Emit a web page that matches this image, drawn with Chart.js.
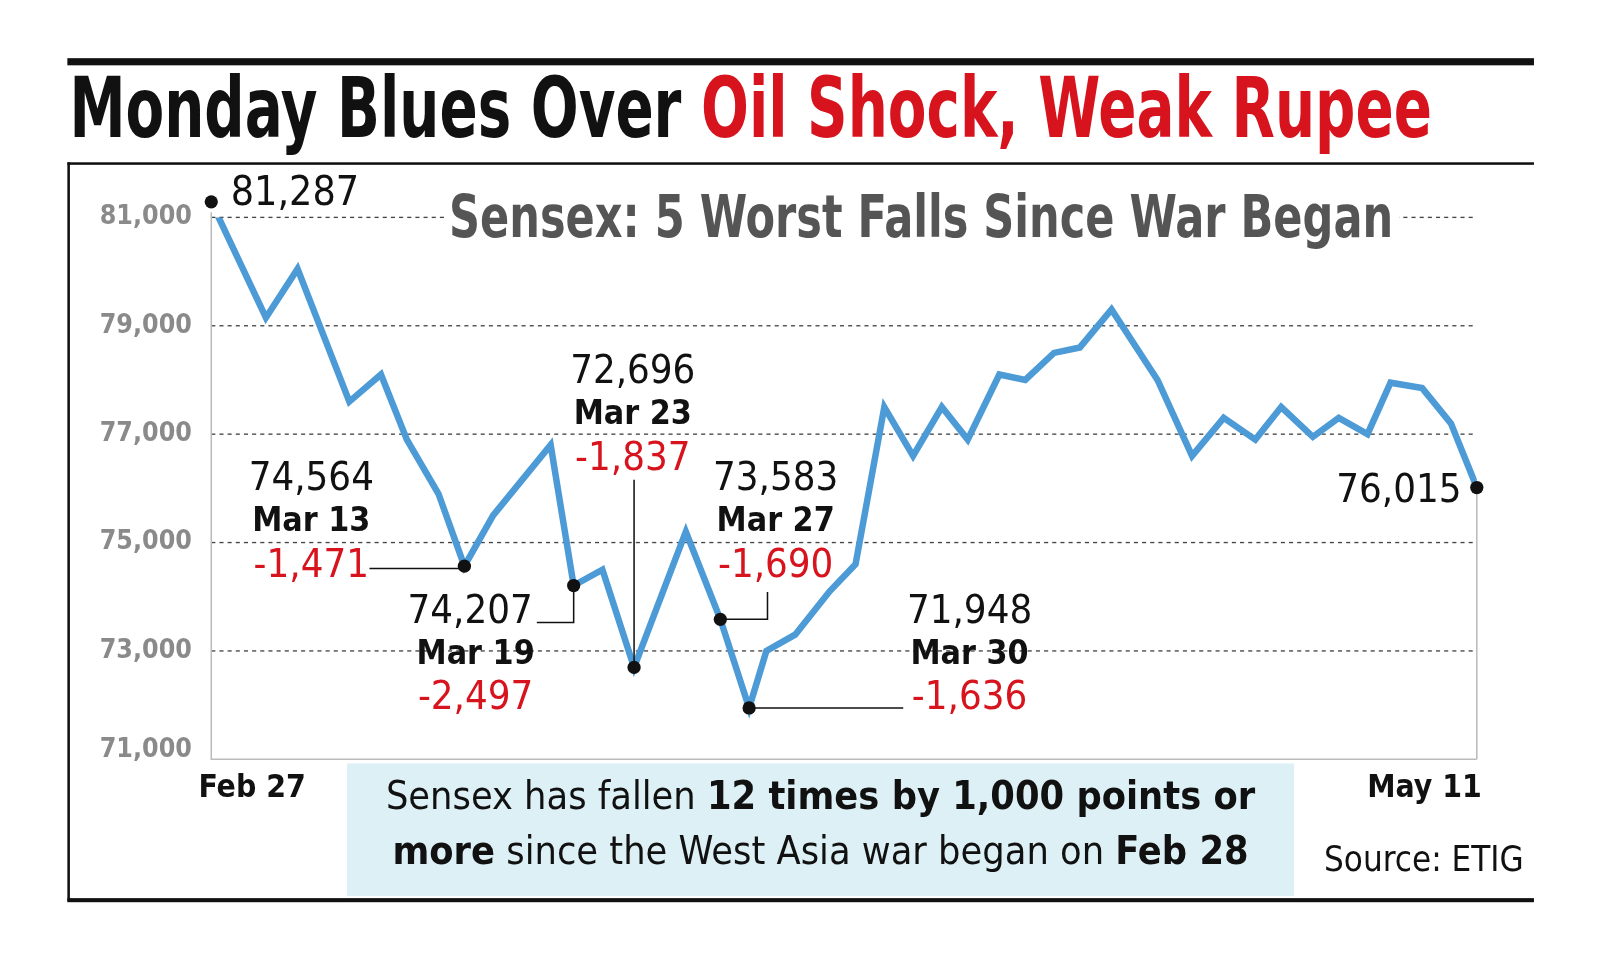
<!DOCTYPE html>
<html>
<head>
<meta charset="utf-8">
<script src="https://cdn.jsdelivr.net/npm/chart.js@4/dist/chart.umd.min.js"></script>
<style>
  html, body { margin: 0; padding: 0; background: #fff; }
  #wrap { position: relative; width: 1600px; height: 960px; }
</style>
</head>
<body>
<div id="wrap"><canvas id="c" width="1600" height="960"></canvas></div>
<script>
// ── Data ────────────────────────────────────────────────────────────────────
// trading-day position since Feb 27, Sensex close
const DAYS = [0, 1.9, 3, 4.8, 5.9, 6.8, 7.9, 8.8, 9.8, 11.8, 12.6, 13.6, 14.7, 16.5, 17.7, 18.7,
	19.3, 20.3, 21.5, 22.4, 23.4, 24.4, 25.4, 26.3, 27.4, 28.3, 29.3, 30.2, 31.3, 32.9, 34.1,
	35.2, 36.3, 37.2, 38.3, 39.2, 40.2, 41, 42.1, 43.1, 44]
const CLOSES = [81287, 79150, 80050, 77600, 78100, 76900, 75900, 74564, 75500, 76800, 74207,
	74500, 72696, 75200, 73583, 71948, 73000, 73300, 74100, 74600, 77500, 76600, 77500, 76900,
	78100, 78000, 78500, 78600, 79300, 78000, 76600, 77300, 76900, 77500, 76950, 77300, 77000,
	77950, 77850, 77200, 76015]
const Y_TICKS = [71000, 73000, 75000, 77000, 79000, 81000]
const X_LABELS = ['Feb 27', 'May 11']
const FALLS = [
	{ idx: 7, date: 'Mar 13', drop: '-1,471' },
	{ idx: 10, date: 'Mar 19', drop: '-2,497' },
	{ idx: 12, date: 'Mar 23', drop: '-1,837' },
	{ idx: 14, date: 'Mar 27', drop: '-1,690' },
	{ idx: 15, date: 'Mar 30', drop: '-1,636' },
]

const NARROW = "'Liberation Sans Narrow', 'DejaVu Sans Condensed', sans-serif"
const RED = '#d7141e'
const S = 1.0206 // layout units -> canvas pixels
const fmt = v => v.toLocaleString('en-US')

// ── Helpers ─────────────────────────────────────────────────────────────────

function text(ctx, s, x, y, size, opts = {}) {
	ctx.save()
	ctx.font = `${opts.bold ? 'bold ' : ''}${size}px ${NARROW}`
	ctx.fillStyle = opts.color || '#111'
	ctx.textAlign = opts.align || 'center'
	ctx.textBaseline = 'middle'
	ctx.fillText(s, x, y)
	ctx.restore()
}

function line(ctx, pts, w = 1.5, color = '#111') {
	ctx.save()
	ctx.strokeStyle = color
	ctx.lineWidth = w
	ctx.beginPath()
	pts.forEach(([x, y], i) => (i ? ctx.lineTo(x, y) : ctx.moveTo(x, y)))
	ctx.stroke()
	ctx.restore()
}

function dot(ctx, x, y) {
	ctx.save()
	ctx.fillStyle = '#111'
	ctx.beginPath()
	ctx.arc(x, y, 6.5, 0, Math.PI * 2)
	ctx.fill()
	ctx.restore()
}

// mixed-weight run of text, centred on cx
function runs(ctx, parts, cx, y, size) {
	ctx.save()
	ctx.textBaseline = 'middle'
	ctx.fillStyle = '#111'
	let total = 0
	parts.forEach(p => {
		ctx.font = `${p[1] ? 'bold ' : ''}${size}px ${NARROW}`
		total += ctx.measureText(p[0]).width
	})
	let x = cx - total / 2
	ctx.textAlign = 'left'
	parts.forEach(p => {
		ctx.font = `${p[1] ? 'bold ' : ''}${size}px ${NARROW}`
		ctx.fillText(p[0], x, y)
		x += ctx.measureText(p[0]).width
	})
	ctx.restore()
}

// ── Decorations ─────────────────────────────────────────────────────────────

const backdrop = {
	id: 'backdrop',
	beforeDatasetsDraw(chart) {
		const { ctx, chartArea, scales: { x, y } } = chart
		const a = { left: chartArea.left / S, right: chartArea.right / S, top: chartArea.top / S, bottom: chartArea.bottom / S }
		const py = v => y.getPixelForValue(v) / S
		ctx.save()
		ctx.scale(S, S)
		// frame
		ctx.fillStyle = '#111'
		ctx.fillRect(66, 57, 1437, 7)
		ctx.fillRect(66, 159, 1437, 2.5)
		ctx.fillRect(66, 880, 1437, 4)
		ctx.fillRect(66, 159, 2.5, 724)

		// title
		ctx.save()
		ctx.font = `bold 76px ${NARROW}`
		const a1 = 'Monday Blues Over ', a2 = 'Oil Shock, Weak Rupee'
		const w1 = ctx.measureText(a1).width, w2 = ctx.measureText(a2).width
		const k = 1335 / (w1 + w2)
		ctx.translate(68, 113)
		ctx.scale(k, 1.08)
		ctx.textBaseline = 'middle'
		ctx.fillStyle = '#111'
		ctx.fillText(a1, 0, 0)
		ctx.fillStyle = RED
		ctx.fillText(a2, w1, 0)
		ctx.restore()

		// grid
		ctx.save()
		ctx.setLineDash([4, 4])
		ctx.strokeStyle = '#444'
		ctx.lineWidth = 1.3
		Y_TICKS.forEach(v => {
			if (v === 71000) return
			ctx.beginPath()
			ctx.moveTo(a.left, py(v))
			ctx.lineTo(a.right, py(v))
			ctx.stroke()
		})
		ctx.restore()
		line(ctx, [[a.left, a.top - 5], [a.left, a.bottom], [a.right, a.bottom]], 1.5, '#bbb')
		line(ctx, [[a.right, py(CLOSES[CLOSES.length - 1])], [a.right, a.bottom]], 1.5, '#bbb')

		Y_TICKS.forEach(v => {
			text(ctx, fmt(v), 188, py(v) - (v === 71000 ? 9 : 0), 26, { bold: true, color: '#8a8a8a', align: 'right' })
		})

		// subtitle with white backing
		ctx.save()
		ctx.font = `bold 54px ${NARROW}`
		const sub = 'Sensex: 5 Worst Falls Since War Began'
		const sk = 925 / ctx.measureText(sub).width
		ctx.fillStyle = '#fff'
		ctx.fillRect(436, 190, 935, 50)
		ctx.translate(440, 217)
		ctx.scale(sk, 1.05)
		ctx.fillStyle = '#555'
		ctx.textBaseline = 'middle'
		ctx.fillText(sub, 0, 0)
		ctx.restore()

		// note box
		ctx.fillStyle = '#dcf0f5'
		ctx.fillRect(340, 748, 928, 130)
		runs(ctx, [['Sensex has fallen ', false], ['12 times by 1,000 points or', true]], 804, 783, 38.5)
		runs(ctx, [['more', true], [' since the West Asia war began on ', false], ['Feb 28', true]], 804, 837, 38.5)

		text(ctx, X_LABELS[0], 247, 773, 31, { bold: true })
		text(ctx, X_LABELS[1], 1452, 773, 31, { bold: true, align: 'right' })
		text(ctx, 'Source: ETIG', 1493, 845, 34, { align: 'right' })
		ctx.restore()
	},
	afterDatasetsDraw(chart) {
		const { ctx, scales: { x, y } } = chart
		const P = i => [x.getPixelForValue(DAYS[i]) / S, y.getPixelForValue(CLOSES[i]) / S]
		const last = CLOSES.length - 1
		ctx.save()
		ctx.scale(S, S)

		const [x0, y0] = P(0)
		dot(ctx, x0, y0)
		text(ctx, fmt(CLOSES[0]), 226, 190, 40, { align: 'left' })

		const [xe, ye] = P(last)
		dot(ctx, xe, ye)
		text(ctx, fmt(CLOSES[last]), 1432, 482, 39, { align: 'right' })

		const blocks = [
			{ cx: 305, cy: 470 },
			{ cx: 466, cy: 600, rightValue: 522 },
			{ cx: 620, cy: 365 },
			{ cx: 760, cy: 470 },
			{ cx: 950, cy: 600 },
		]
		FALLS.forEach((f, n) => {
			const b = blocks[n]
			if (b.rightValue) text(ctx, fmt(CLOSES[f.idx]), b.rightValue, b.cy, 39, { align: 'right' })
			else text(ctx, fmt(CLOSES[f.idx]), b.cx, b.cy, 39)
			text(ctx, f.date, b.cx, b.cy + 42, 33, { bold: true })
			text(ctx, f.drop, b.cx, b.cy + 85, 39, { color: RED })
		})
		const pts = FALLS.map(f => P(f.idx))
		line(ctx, [[362, 557], [pts[0][0], 557]])
		line(ctx, [[526, 610], [pts[1][0], 610], [pts[1][0], pts[1][1]]])
		line(ctx, [[pts[2][0], 470], [pts[2][0], pts[2][1]]])
		line(ctx, [[pts[3][0], pts[3][1]], [752, pts[3][1]], [752, 580]])
		line(ctx, [[pts[4][0], pts[4][1]], [885, pts[4][1]]])
		pts.forEach(([px, py]) => dot(ctx, px, py))
		ctx.restore()
	},
}

// ── Chart ───────────────────────────────────────────────────────────────────

new Chart(document.getElementById('c'), {
	type: 'line',
	data: {
		datasets: [{
			data: DAYS.map((d, i) => ({ x: d, y: CLOSES[i] })),
			borderColor: '#4c9bd6',
			borderWidth: 6.5,
			pointRadius: 0,
			tension: 0,
			fill: false,
		}],
	},
	options: {
		responsive: false,
		animation: false,
		layout: { padding: { left: 207 * S, right: 1600 - 1447 * S, top: 213 * S, bottom: 960 - 744 * S } },
		scales: {
			x: { type: 'linear', min: 0, max: 44, display: false },
			y: { min: 71000, max: 81000, display: false },
		},
		plugins: { legend: { display: false }, tooltip: { enabled: false } },
	},
	plugins: [backdrop],
})
</script>
</body>
</html>
